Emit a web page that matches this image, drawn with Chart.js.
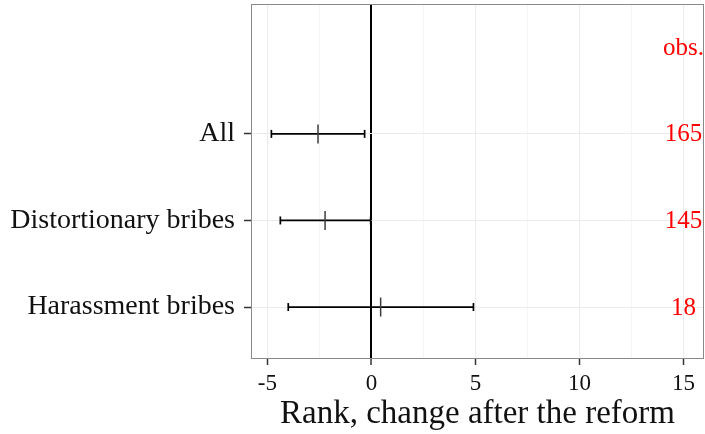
<!DOCTYPE html>
<html>
<head>
<meta charset="utf-8">
<script src="https://cdn.jsdelivr.net/npm/chart.js@4/dist/chart.umd.min.js"></script>
<style>
  html, body { margin: 0; padding: 0; background: #fff; }
  #wrap { width: 705px; height: 434px; }
</style>
</head>
<body>
<div id="wrap"><canvas id="forest"></canvas></div>
<script>
// data (bottom to top)
const categories = ["Harassment bribes", "Distortionary bribes", "All"];
const estimates = [0.44, -2.23, -2.57];
const lower = [-4.0, -4.38, -4.81];
const upper = [4.9, -0.04, -0.33];
const obsCounts = [18, 145, 165];
const obsHeader = "obs.";
const xTicks = [-5, -2.5, 0, 2.5, 5, 7.5, 10, 12.5, 15];

const serif = "'Liberation Serif', 'DejaVu Serif', serif";

// one line dataset per confidence interval, caps drawn as rotated line points
const ciSets = categories.map((c, i) => ({
  label: c,
  type: "line",
  data: [{ x: lower[i], y: i + 1 }, { x: upper[i], y: i + 1 }],
  borderColor: "#000",
  borderWidth: 1.7,
  pointStyle: "line",
  rotation: 90,
  pointRadius: 4,
  pointBorderWidth: 1.7,
  pointBorderColor: "#000",
}));

const pointSet = {
  label: "estimate",
  type: "scatter",
  data: estimates.map((v, i) => ({ x: v, y: i + 1 })),
  pointStyle: "line",
  rotation: 90,
  pointRadius: 9.5,
  pointBorderWidth: 1.5,
  borderColor: "#3c3c3c",
  backgroundColor: "#3c3c3c",
};

const panelBorder = {
  id: "panelBorder",
  afterDraw(chart) {
    const a = chart.chartArea;
    const c = chart.ctx;
    c.save();
    c.strokeStyle = "#8a8a8a";
    c.lineWidth = 1;
    c.strokeRect(a.left + 0.5, a.top + 0.5, a.right - a.left - 1, a.bottom - a.top - 1);
    c.restore();
  },
};

const obsLabels = {
  id: "obsLabels",
  afterDatasetsDraw(chart) {
    const c = chart.ctx;
    const xs = chart.scales.x;
    const ys = chart.scales.y;
    c.save();
    c.fillStyle = "#ff0000";
    c.font = "25px " + serif;
    c.textAlign = "center";
    c.textBaseline = "middle";
    obsCounts.forEach((n, i) => {
      c.fillText(String(n), xs.getPixelForValue(15), ys.getPixelForValue(i + 1) + 1);
    });
    c.fillText(obsHeader, xs.getPixelForValue(15), ys.getPixelForValue(categories.length + 1) + 1);
    c.restore();
  },
};

const ctx = document.getElementById("forest");
new Chart(ctx, {
  data: { datasets: [pointSet, ...ciSets] },
  options: {
    responsive: true,
    maintainAspectRatio: false,
    animation: false,
    layout: { autoPadding: false, padding: { top: 4, right: 1, left: 0, bottom: 0 } },
    plugins: { legend: { display: false }, tooltip: { enabled: false } },
    scales: {
      x: {
        type: "linear",
        min: -5.79,
        max: 15.98,
        afterBuildTicks: (s) => { s.ticks = xTicks.map((v) => ({ value: v })); },
        afterFit: (s) => {
          s.height = 75;
          s.paddingLeft = 0;
          s.paddingRight = 0;
        },
        border: { display: false },
        grid: {
          color: (c) => (c.tick && c.tick.value === 0 ? "#000" : (c.tick && c.tick.value % 5 === 0 ? "#ebebeb" : "#f5f5f5")),
          lineWidth: (c) => (c.tick && c.tick.value === 0 ? 2 : 1),
          tickColor: (c) => (c.tick && c.tick.value % 5 === 0 ? "#333" : "rgba(0,0,0,0)"),
          tickLength: 6,
          tickWidth: 1.5,
        },
        ticks: {
          color: "#111",
          font: { family: serif, size: 23 },
          padding: 5,
          maxRotation: 0,
          autoSkip: false,
          callback: (v) => (v % 5 === 0 ? String(v) : ""),
        },
        title: {
          display: true,
          text: "Rank, change after the reform",
          color: "#111",
          font: { family: serif, size: 33 },
          padding: { top: 0, bottom: 0 },
        },
      },
      y: {
        type: "linear",
        min: 0.4,
        max: 4.5,
        afterBuildTicks: (s) => { s.ticks = [1, 2, 3].map((v) => ({ value: v })); },
        afterFit: (s) => {
          s.width = 251;
          s.paddingTop = 0;
          s.paddingBottom = 0;
        },
        border: { display: false },
        grid: {
          color: "#ebebeb",
          lineWidth: 1,
          tickColor: "#333",
          tickLength: 7,
          tickWidth: 1.5,
        },
        ticks: {
          color: "#111",
          font: { family: serif, size: 28 },
          padding: 9,
          autoSkip: false,
          callback: (v) => categories[v - 1] || "",
        },
      },
    },
  },
  plugins: [panelBorder, obsLabels],
});
</script>
</body>
</html>
